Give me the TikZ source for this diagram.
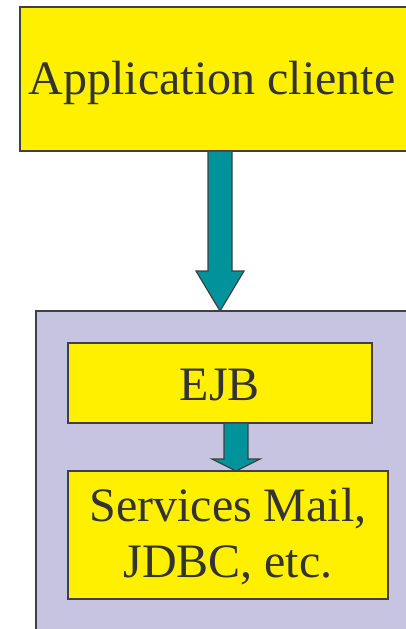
\documentclass[tikz,border=0pt]{standalone}
\usepackage{fontspec}
\setmainfont{Liberation Serif}
\definecolor{boxyellow}{HTML}{FFF000}
\definecolor{arrowteal}{HTML}{00939C}
\definecolor{contlilac}{HTML}{C6C4E1}
\definecolor{edgegrey}{HTML}{404040}
\definecolor{textgrey}{HTML}{333333}
\begin{document}
\begin{tikzpicture}[x=1pt,y=-1pt,
  yellowbox/.style={draw=edgegrey,line width=1.2pt,fill=boxyellow},
  fatarrow/.style={draw=edgegrey,line width=1.2pt,fill=arrowteal,line join=miter},
  boxtext/.style={text=textgrey,font=\rmfamily\fontsize{48}{56}\selectfont,align=center,inner sep=0pt}]
\useasboundingbox (0,0) rectangle (405,629);
% container of the server side
\path[draw=edgegrey,line width=1.2pt,fill=contlilac] (36,311) rectangle (420,640);
% client application
\path[yellowbox] (20,7) rectangle (420,151);
\node[boxtext] (app) at (212,83) {Application cliente};
% EJB and services
\path[yellowbox] (68,343) rectangle (372,423);
\node[boxtext] (ejb) at (220,385) {EJB};
\path[yellowbox] (68,471) rectangle (388,599);
\node[boxtext] (svc) at (228,537) {Services Mail,\\JDBC, etc.};
% block arrows
\coordinate (a1) at (220,151);
\coordinate (a2) at (220,311);
\path[fatarrow] (208,151) -- (232,151) -- (232,271) -- (244,271) -- (a2) -- (196,271) -- (208,271) -- cycle;
\coordinate (b1) at (236,423);
\coordinate (b2) at (236,471);
\path[fatarrow] (224,423) -- (248,423) -- (248,459) -- (260,459) -- (b2) -- (212,459) -- (224,459) -- cycle;
\end{tikzpicture}
\end{document}
